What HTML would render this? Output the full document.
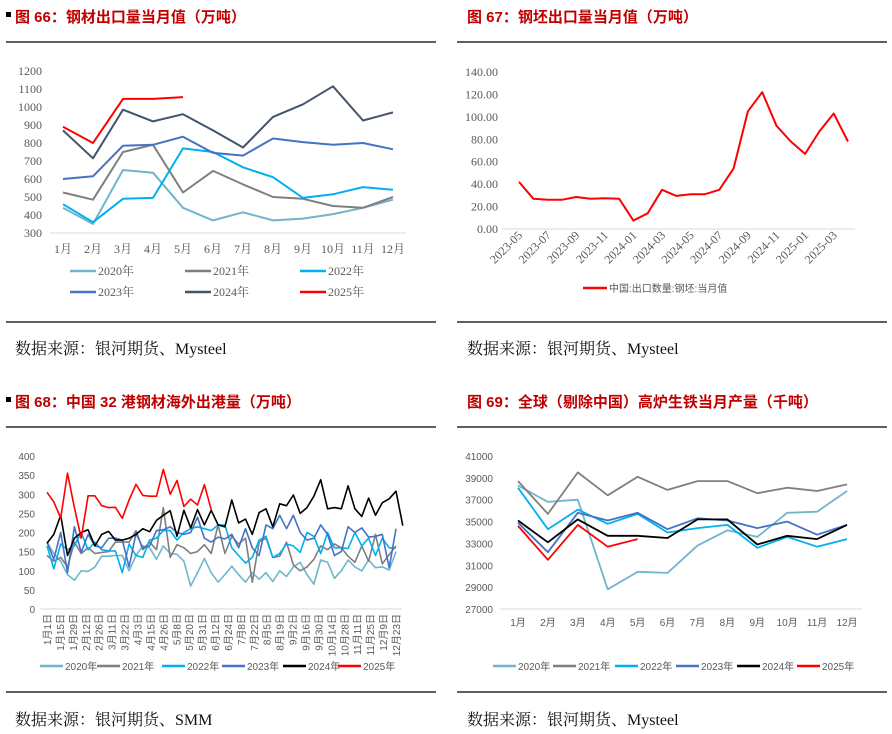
<!DOCTYPE html>
<html><head><meta charset="utf-8"><style>
html,body{margin:0;padding:0;background:#fff;}
svg{display:block;}
.tt{font-family:"Liberation Sans","Noto Sans CJK SC",sans-serif;font-weight:bold;font-size:15px;fill:#c00000;}
.src{font-family:"Liberation Serif","Noto Serif CJK SC",serif;font-size:16px;fill:#111;}
.tks{font-family:"Liberation Serif","Noto Serif CJK SC",serif;font-size:12px;fill:#595959;}
.tka{font-family:"Liberation Sans","Noto Sans CJK SC",sans-serif;font-size:10px;fill:#595959;}
</style></head><body>
<svg id="root" width="892" height="734" viewBox="0 0 892 734" xmlns="http://www.w3.org/2000/svg">
<g stroke="#000" stroke-width="1.3">
<line x1="6" y1="42" x2="436" y2="42"/><line x1="457" y1="42" x2="887" y2="42"/>
<line x1="6" y1="322" x2="436" y2="322"/><line x1="457" y1="322" x2="887" y2="322"/>
<line x1="6" y1="427" x2="436" y2="427"/><line x1="457" y1="427" x2="887" y2="427"/>
<line x1="6" y1="692" x2="436" y2="692"/><line x1="457" y1="692" x2="887" y2="692"/>
</g>
<rect x="6" y="12" width="5" height="5" fill="#000"/>
<rect x="6" y="397" width="5" height="5" fill="#000"/>
<text class="tt" x="15" y="22">图 66：钢材出口量当月值（万吨）</text>
<text class="tt" x="467" y="22">图 67：钢坯出口量当月值（万吨）</text>
<text class="tt" x="15" y="407">图 68：中国 32 港钢材海外出港量（万吨）</text>
<text class="tt" x="467" y="407">图 69：全球（剔除中国）高炉生铁当月产量（千吨）</text>
<text class="src" x="15" y="354">数据来源：银河期货、Mysteel</text>
<text class="src" x="467" y="354">数据来源：银河期货、Mysteel</text>
<text class="src" x="15" y="725">数据来源：银河期货、SMM</text>
<text class="src" x="467" y="725">数据来源：银河期货、Mysteel</text>
<g id="c66"></g>
<g id="c67"></g>
<g id="c68"></g>
<g id="c69"></g>
</svg>
<script>
// ---- data ----
const months = ["1月","2月","3月","4月","5月","6月","7月","8月","9月","10月","11月","12月"];
const years = ["2020年","2021年","2022年","2023年","2024年","2025年"];
const yearColors = ["#6fb6cc","#7f7f7f","#00b0f0","#4472c4","#44546a","#ff0000"];
const c66_2020 = [440,350,650,635,440,370,415,370,380,405,440,485];
const c66_2021 = [525,485,750,790,525,645,570,500,490,450,440,500];
const c66_2022 = [460,360,490,495,770,750,665,610,495,515,555,540];
const c66_2023 = [600,615,785,790,835,745,730,825,805,790,800,765];
const c66_2024 = [870,715,985,920,960,870,775,945,1015,1115,925,970];
const c66_2025 = [890,800,1045,1045,1055];
const c66_ticks = [300,400,500,600,700,800,900,1000,1100,1200];

const c67_months = ["2023-05","2023-06","2023-07","2023-08","2023-09","2023-10","2023-11","2023-12","2024-01","2024-02","2024-03","2024-04","2024-05","2024-06","2024-07","2024-08","2024-09","2024-10","2024-11","2024-12","2025-01","2025-02","2025-03","2025-04"];
const c67_values = [42,27,26,26,28.5,27,27.5,27,7.5,14,35,29.5,31,31,35,54,105,122,92,78,67,87,103,78];
const c67_ticks = [0,20,40,60,80,100,120,140];

const c68_labels = ["1月1日","1月15日","1月29日","2月12日","2月26日","3月11日","3月22日","4月3日","4月15日","4月26日","5月8日","5月20日","5月31日","6月12日","6月24日","7月8日","7月22日","8月5日","8月19日","9月2日","9月16日","9月30日","10月14日","10月28日","11月11日","11月25日","12月9日","12月23日"];
const c68_2020 = [175,145,125,90,75,100,98,110,138,138,140,140,100,140,165,160,130,165,145,143,125,60,95,132,95,70,90,112,90,70,95,78,95,72,100,85,110,122,90,65,128,122,80,100,128,110,100,128,108,110,102,150];
const c68_2021 = [140,125,135,110,175,145,160,145,148,150,175,175,175,205,155,175,155,265,135,168,160,145,150,168,145,220,145,190,170,185,70,175,185,135,138,175,115,100,110,130,165,155,170,160,138,122,165,125,195,118,142,165];
const c68_2022 = [165,105,170,155,165,200,155,175,155,152,152,95,170,140,135,180,185,205,205,180,200,210,215,210,205,220,220,160,140,120,135,180,190,135,145,170,165,148,200,190,145,200,160,160,158,200,165,185,140,185,160,160];
const c68_2023 = [175,130,200,95,215,148,195,165,160,185,185,180,110,198,160,165,205,207,215,200,195,200,240,185,175,188,183,195,160,210,160,140,220,210,245,210,245,200,180,185,220,195,140,150,215,200,212,188,190,195,108,210];
const c68_2024 = [172,195,245,140,185,200,207,165,195,203,180,180,185,195,210,202,232,245,257,190,258,212,260,220,258,220,215,285,225,235,195,252,262,215,275,270,298,250,265,295,338,262,265,262,322,262,242,290,245,278,288,308,218];
const c68_2025 = [305,280,238,355,265,185,296,296,270,265,266,237,285,326,297,295,295,365,300,336,268,287,272,325,260];
const c68_ticks = [0,50,100,150,200,250,300,350,400];

const c69_2020 = [38300,36800,37000,28800,30400,30300,32800,34200,33600,35800,35900,37800];
const c69_2021 = [38700,35700,39500,37400,39100,37900,38700,38700,37600,38100,37800,38400];
const c69_2022 = [38100,34300,36100,34800,35700,34000,34400,34700,32600,33600,32700,33400];
const c69_2023 = [34900,32200,35800,35100,35800,34300,35300,35100,34400,35000,33800,34700];
const c69_2024 = [35100,33100,35200,33700,33700,33500,35200,35200,32900,33700,33400,34700];
const c69_2025 = [34600,31500,34700,32700,33400];
const c69_ticks = [27000,29000,31000,33000,35000,37000,39000,41000];

const NS="http://www.w3.org/2000/svg";
function mk(parent, tag, attrs){const e=document.createElementNS(NS,tag);for(const k in attrs)e.setAttribute(k,attrs[k]);parent.appendChild(e);return e;}
function linScale(d0,d1,r0,r1){return v=>r0+(v-d0)*(r1-r0)/(d1-d0);}

function drawSeries(g, data, xs, ys, color, w, name){
  const pts=data.map((v,i)=>xs(i).toFixed(1)+","+ys(v).toFixed(1)).join(" ");
  const p=mk(g,"polyline",{points:pts,fill:"none",stroke:color,"stroke-width":w,"stroke-linejoin":"round"});
  
  
}
function yAxis(g, ticks, ys, x, cls, fmt){
  ticks.forEach(t=>{const e=mk(g,"text",{x:x,y:ys(t)+4,"text-anchor":"end",class:cls});e.textContent=fmt(t);
    
    });
}
function baseLine(g,x1,x2,y){const l=mk(g,"line",{x1:x1,x2:x2,y1:y,y2:y,stroke:"#d9d9d9","stroke-width":1});
  
  }
function legendEntry(g,x,y,color,label,cls,len){
  const l=mk(g,"line",{x1:x,x2:x+len,y1:y,y2:y,stroke:color,"stroke-width":2.5});
  
  
  const t=mk(g,"text",{x:x+len+2,y:y+4,class:cls});t.textContent=label;
  
  
}

// chart 66
(function(){
  const g=document.getElementById("c66");
  const ys=linScale(300,1200,233,71), xs=linScale(0,11,63,393);
  yAxis(g,c66_ticks,ys,42,"tks",t=>t);
  baseLine(g,50,406,233);
  months.forEach((m,i)=>{const e=mk(g,"text",{x:xs(i),y:253,"text-anchor":"middle",class:"tks"});e.textContent=m;
    
    });
  [c66_2020,c66_2021,c66_2022,c66_2023,c66_2024,c66_2025].forEach((d,i)=>drawSeries(g,d,xs,ys,yearColors[i],2,"line-"+years[i]));
  const lx=[70,185,300], ly=[271,292];
  years.forEach((y,i)=>legendEntry(g,lx[i%3],ly[Math.floor(i/3)],yearColors[i],y,"tks",26));
})();

// chart 67
(function(){
  const g=document.getElementById("c67");
  const ys=linScale(0,140,229,72), xs=linScale(0,c67_months.length-1,519,848);
  yAxis(g,c67_ticks,ys,498,"tks",t=>t.toFixed(2));
  baseLine(g,502,855,229);
  c67_months.forEach((m,i)=>{ if(i%2) return;
    const e=mk(g,"text",{x:0,y:0,"text-anchor":"end",class:"tks",transform:`translate(${xs(i)+4},${236}) rotate(-45)`});e.textContent=m;
    
    });
  drawSeries(g,c67_values,xs,ys,"#ff0000",2,"billet-export-line");
  legendEntry(g,583,288,"#ff0000","中国:出口数量:钢坯:当月值","tka",24);
})();

// chart 68
(function(){
  const g=document.getElementById("c68");
  const ys=linScale(0,400,609,456), xs=linScale(0,51,47,396);
  const xl=linScale(0,c68_labels.length-1,47,396);
  yAxis(g,c68_ticks,ys,35,"tka",t=>t);
  baseLine(g,40,402,609);
  c68_labels.forEach((m,i)=>{
    const e=mk(g,"text",{x:0,y:0,"text-anchor":"end",class:"tka",transform:`translate(${xl(i)+4},${614}) rotate(-90)`});e.textContent=m;
    
    });
  [c68_2020,c68_2021,c68_2022,c68_2023,c68_2024,c68_2025].forEach((d,i)=>drawSeries(g,d,xs,ys,i==4?"#000":yearColors[i],1.6,"line-"+years[i]));
  const lx=[40,97,162,222,283,338];
  years.forEach((y,i)=>legendEntry(g,lx[i],666,i==4?"#000":yearColors[i],y,"tka",23));
})();

// chart 69
(function(){
  const g=document.getElementById("c69");
  const ys=linScale(27000,41000,609,456), xs=linScale(0,11,518,847);
  yAxis(g,c69_ticks,ys,493,"tka",t=>t);
  baseLine(g,500,862,609);
  months.forEach((m,i)=>{const e=mk(g,"text",{x:xs(i),y:626,"text-anchor":"middle",class:"tka"});e.textContent=m;
    
    });
  [c69_2020,c69_2021,c69_2022,c69_2023,c69_2024,c69_2025].forEach((d,i)=>drawSeries(g,d,xs,ys,i==4?"#000":yearColors[i],1.8,"line-"+years[i]));
  const lx=[493,553,615,676,737,797];
  years.forEach((y,i)=>legendEntry(g,lx[i],666,i==4?"#000":yearColors[i],y,"tka",23));
})();
</script>
</body></html>
